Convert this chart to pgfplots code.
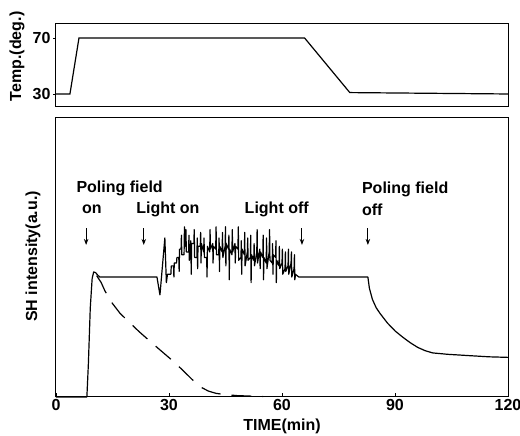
\documentclass[border=0pt]{standalone}
\usepackage{fontspec}
\setmainfont{Liberation Sans}
\usepackage{pgfplots}
\pgfplotsset{compat=1.18}
\usetikzlibrary{arrows.meta}
\begin{document}
\begin{tikzpicture}
\path[use as bounding box] (-56pt,-39pt) rectangle (464pt,397pt);
\pgfplotsset{every axis/.append style={
  scale only axis, width=452pt,
  axis line style={line width=1pt},
  tick style={line width=0.9pt,black},
  /pgf/number format/assume math mode=true,
  tick label style={font=\fontsize{16}{19}\selectfont\bfseries},
  label style={font=\fontsize{16}{19}\selectfont\bfseries},
  xmin=0, xmax=120,
}}
% bottom panel
\begin{axis}[
  at={(0pt,0pt)}, anchor=south west,
  height=279pt,
  ymin=0, ymax=100,
  ytick=\empty,
  xtick={0,30,60,90,120},
  tick align=inside, major tick length=4pt,
  xtick pos=bottom,
  xticklabel style={yshift=1pt},
  xlabel={TIME(min)},
  xlabel style={at={(axis description cs:0.5,0)},anchor=north,yshift=-18pt},
  ylabel={SH intensity(a.u.)},
  ylabel style={at={(axis description cs:-0.051,0.504)},anchor=center},
  clip=false,
]
\addplot[black, line width=1.2pt, line join=round] coordinates {
(0,0) (8.2,0) (8.6,12) (9.1,32) (9.6,42.5) (10.0,44.8) (10.5,44.6) (11.0,43.8) (11.6,43) (12,43)
(26.8,43) (27.6,36.6) (28.9,57) (29.3,41) (29.6,44) (30.5,44) (30.6,47) (31.2,47) (31.3,43) (31.4,48)
(32.0,48) (32.1,50) (32.6,50) (32.7,45) (32.8,53) (33.2,53) (33.3,58) (33.4,51) (34.0,51) (34.1,61)
(34.2,54) (34.5,60) (34.6,52) (35.2,52) (35.3,58) (35.4,49) (35.8,56) (35.9,44) (36.0,55) (36.6,55)
(36.7,60) (36.8,50) (37.4,50) (37.5,57) (37.6,46) (37.7,54) (38.3,54) (38.4,59) (38.5,48) (38.6,55)
(39.2,52) (39.3,57) (39.4,50) (40.0,50) (40.1,43) (40.2,54) (40.8,52) (40.9,60) (41.0,53) (41.6,55)
(41.7,48) (41.8,54) (42.4,53) (42.5,61) (42.6,51) (43.2,51) (43.3,57) (43.4,45) (43.5,54) (44.1,52)
(44.2,59) (44.3,50) (44.9,54) (45.0,61) (45.1,47) (45.2,55) (45.8,53) (45.9,58) (46.0,42) (46.1,53)
(46.7,51) (46.8,60) (46.9,52) (47.5,55) (47.6,48) (47.7,54) (48.3,53) (48.4,61) (48.5,49) (49.1,50)
(49.2,56) (49.3,44) (49.4,53) (50.0,51) (50.1,59) (50.2,47) (50.8,52) (50.9,57) (51.0,49) (51.6,50)
(51.7,58) (51.8,41) (51.9,51) (52.5,49) (52.6,55) (52.7,47) (53.3,52) (53.4,60) (53.5,48) (54.1,53)
(54.2,46) (54.3,52) (54.9,50) (55.0,58) (55.1,42) (55.2,50) (55.8,48) (55.9,57) (56.0,46) (56.6,52)
(56.7,60) (56.8,49) (57.4,48) (57.5,55) (57.6,44) (57.7,51) (58.3,50) (58.4,56) (58.5,41) (58.6,49)
(59.2,47) (59.3,54) (59.4,46) (60.0,48) (60.1,53) (60.2,44) (60.8,46) (60.9,52) (61.0,45) (61.6,47)
(61.7,53) (61.8,44) (62.4,48) (62.5,52) (62.6,43) (63.2,46) (63.3,51) (63.4,42) (63.6,44) (64.0,43.5)
(64.5,43)
(82.8,43) (83.2,39) (84,35) (85,32) (86,30) (88,26.5) (90,23.7) (92,21.5) (94,19.5) (96,17.8)
(98,16.6) (100,15.8) (104,15.3) (110,14.8) (115,14.4) (120,14.2)
};
\addplot[black, line width=1.2pt, dash pattern=on 20pt off 11pt] coordinates {
(10.8,43.5) (12,41) (13,38) (15,33.5) (17,30) (19.3,27) (22,23.5) (24.6,20.4) (27.5,17) (30.7,13.3)
(33.5,9.8) (36.8,5.4) (38.5,3.5) (40.5,2.1) (42.5,1.3) (44.7,0.9) (48,0.5) (52,0.3) (55,0.2)
};
\begin{scope}[font=\fontsize{16}{19}\selectfont\bfseries]
\node[anchor=west,inner sep=0pt] at (axis cs:5.4,74.9) {Poling field};
\node[anchor=west,inner sep=0pt] at (axis cs:6.9,67.4) {on};
\node[anchor=center,inner sep=0pt] at (axis cs:29.7,67.4) {Light on};
\node[anchor=center,inner sep=0pt] at (axis cs:58.6,67.4) {Light off};
\node[anchor=west,inner sep=0pt] at (axis cs:81.2,74.4) {Poling field};
\node[anchor=west,inner sep=0pt] at (axis cs:81.2,67.2) {off};
\end{scope}
\draw[line width=1pt,-{Stealth[length=6pt,width=4.5pt]}] (axis cs:8.0,60.5) -- (axis cs:8.0,54.5);
\draw[line width=1pt,-{Stealth[length=6pt,width=4.5pt]}] (axis cs:23.3,60.5) -- (axis cs:23.3,54.5);
\draw[line width=1pt,-{Stealth[length=6pt,width=4.5pt]}] (axis cs:65.3,60.5) -- (axis cs:65.3,54.5);
\draw[line width=1pt,-{Stealth[length=6pt,width=4.5pt]}] (axis cs:82.8,60.5) -- (axis cs:82.8,54.5);
\end{axis}
% top panel
\begin{axis}[
  at={(0pt,290pt)}, anchor=south west,
  height=83pt,
  ymin=20.7, ymax=80,
  ytick={30,70},
  xtick=\empty,
  tick align=outside, major tick length=3pt,
  ytick pos=left,
  ylabel={Temp.(deg.)},
  ylabel style={at={(axis description cs:-0.086,0.61)},anchor=center},
  yticklabel style={xshift=1pt},
]
\addplot[black, line width=1.2pt] coordinates {
(0,30) (3.7,30) (6.1,70) (66,70) (78,31) (120,30)
};
\end{axis}
\end{tikzpicture}
\end{document}
